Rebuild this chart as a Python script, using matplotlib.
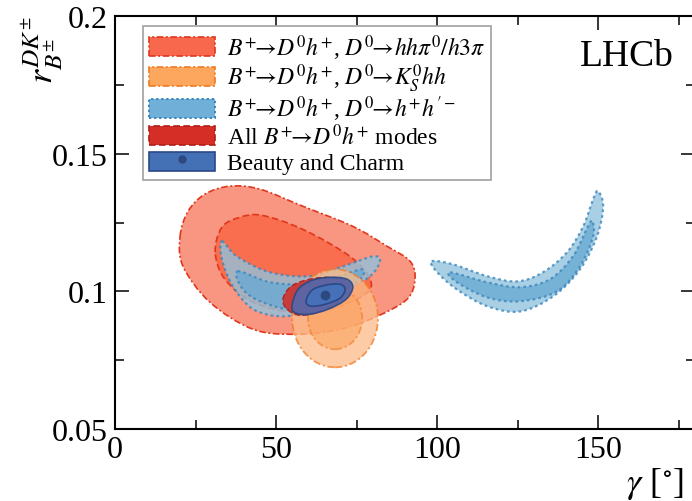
"""gamma vs r_B^{DK} confidence regions, LHCb combination style."""

import matplotlib

matplotlib.use("Agg")
import matplotlib.pyplot as plt
import numpy as np
from matplotlib.legend_handler import HandlerPatch
from matplotlib.lines import Line2D
from matplotlib.patches import Ellipse, Patch, PathPatch, Rectangle
from matplotlib.path import Path

plt.rcParams["font.family"] = ["Liberation Serif", "DejaVu Serif"]
plt.rcParams["mathtext.fontset"] = "stix"

# contour outlines: gamma [deg], r_B
HH_2S_G = [20.2, 22.7, 27.9, 35.7, 45.0, 58.3, 73.8, 84.4, 91.6, 93.1, 90.6, 81.3, 69.8, 56.5, 42.9, 29.5, 21.1]
HH_2S_R = [0.1200, 0.1291, 0.1353, 0.1382, 0.1371, 0.1309, 0.1236, 0.1164, 0.1109, 0.1044,
           0.0971, 0.0909, 0.0862, 0.0844, 0.0862, 0.0960, 0.1091]
HH_1S_G = [31.1, 33.2, 38.8, 45.6, 58.3, 72.9, 79.2, 77.6, 66.8, 55.3, 42.9, 34.1]
HH_1S_R = [0.1142, 0.1233, 0.1269, 0.1276, 0.1225, 0.1127, 0.1044, 0.0989, 0.0935, 0.0924, 0.0960, 0.1044]

# h+h- : two separate solutions
HH2_A_2S_G = [33.2, 37.8, 48.1, 60.5, 70.8, 80.1, 82.2, 79.2, 72.0, 61.4, 52.1, 42.9, 36.6, 33.2]
HH2_A_2S_R = [0.1182, 0.1127, 0.1069, 0.1055, 0.1091, 0.1127, 0.1109, 0.1055, 0.1007, 0.0935,
              0.0909, 0.0935, 0.1018, 0.1116]
HH2_A_1S_G = [38.1, 48.1, 60.5, 69.8, 76.7, 76.1, 68.9, 56.5, 45.9, 39.7]
HH2_A_1S_R = [0.1073, 0.1033, 0.1026, 0.1055, 0.1080, 0.1044, 0.0996, 0.0935, 0.0960, 0.1007]
HH2_B_2S_G = [98.3, 104.9, 115.5, 124.8, 132.8, 140.3, 145.3, 148.4, 149.9, 151.5, 149.6, 144.3,
              136.0, 125.7, 115.5, 106.1, 100.0]
HH2_B_2S_R = [0.1109, 0.1098, 0.1055, 0.1036, 0.1069, 0.1142, 0.1236, 0.1335, 0.1364, 0.1309,
              0.1200, 0.1080, 0.0982, 0.0927, 0.0946, 0.1007, 0.1069]
HH2_B_1S_G = [104.0, 115.5, 125.7, 135.0, 142.1, 146.8, 148.1, 148.4, 144.3, 137.2, 125.7, 115.5, 106.1]
HH2_B_1S_R = [0.1069, 0.1033, 0.1015, 0.1044, 0.1127, 0.1236, 0.1255, 0.1200, 0.1091, 0.1000,
              0.0964, 0.0978, 0.1033]

# K_S hh : centre, full width, full height
KS_CENTER = (68.3, 0.0902)
KS_2S_SIZE = (26.6, 0.0356)
KS_1S_SIZE = (16.8, 0.0225)

ALL_G = [52.1, 54.3, 59.0, 65.2, 71.4, 72.9, 69.8, 63.6, 57.4, 53.4]
ALL_R = [0.0971, 0.1015, 0.1040, 0.1051, 0.1040, 0.1007, 0.0964, 0.0927, 0.0913, 0.0935]

BC_2S_G = [55.0, 56.8, 61.1, 66.8, 72.0, 73.8, 71.7, 66.1, 59.9, 55.6]
BC_2S_R = [0.0953, 0.1007, 0.1040, 0.1051, 0.1044, 0.1015, 0.0971, 0.0935, 0.0916, 0.0924]
BC_1S_G = [59.3, 61.1, 65.2, 69.8, 71.4, 69.8, 65.2, 60.8]
BC_1S_R = [0.0964, 0.1004, 0.1022, 0.1026, 0.1007, 0.0975, 0.0953, 0.0946]
BC_BEST = (65.2, 0.0985)

LABELS = [
    r"$B^{+}\!\!\rightarrow\! D^{0}h^{+}$, $D^{0}\!\!\rightarrow\! hh\pi^{0}/h3\pi$",
    r"$B^{+}\!\!\rightarrow\! D^{0}h^{+}$, $D^{0}\!\!\rightarrow\! K_{S}^{0}hh$",
    r"$B^{+}\!\!\rightarrow\! D^{0}h^{+}$, $D^{0}\!\!\rightarrow\! h^{+}h^{\prime -}$",
    r"All $B^{+}\!\!\rightarrow\! D^{0}h^{+}$ modes",
    "Beauty and Charm",
]


def smooth_patch(gs, rs, **kw):
    # closed catmull-rom curve through the read outline points, as cubic beziers
    pts = np.column_stack([gs, rs])
    n = len(pts)
    verts = [pts[0]]
    codes = [Path.MOVETO]
    for i in range(n):
        p0, p1, p2, p3 = pts[i - 1], pts[i], pts[(i + 1) % n], pts[(i + 2) % n]
        verts += [p1 + (p2 - p0) / 6, p2 - (p3 - p1) / 6, p2]
        codes += [Path.CURVE4] * 3
    verts.append(pts[0])
    codes.append(Path.CLOSEPOLY)
    return PathPatch(Path(verts, codes), **kw)


def swatch(legend, orig_handle, xdescent, ydescent, width, height, fontsize):
    # shorter box than the row so every legend row gets the same height
    return Rectangle((-xdescent, -ydescent + 0.12 * height), width, 0.76 * height)


DOT = (0, (1.2, 1.4))
DASH = (0, (4, 2))
DASHDOT = (0, (4, 1.5, 1.2, 1.5))

red_edge, org_edge, blu_edge = "#e2361c", "#f07a22", "#3a86bd"

fig = plt.figure(figsize=(6.92, 5.02), dpi=100)
ax = fig.add_axes([115 / 692, 1 - 430 / 502, 580 / 692, 413 / 502])

ax.add_patch(smooth_patch(HH_2S_G, HH_2S_R, fc="#f99682", ec=red_edge, ls=DASHDOT, lw=1.2))
ax.add_patch(smooth_patch(HH_1S_G, HH_1S_R, fc="#f86e4e", ec=red_edge, ls=DASH, lw=1.2))

for gs, rs, fc in [(HH2_A_2S_G, HH2_A_2S_R, "#92c3de"), (HH2_A_1S_G, HH2_A_1S_R, "#6aaad3"),
                   (HH2_B_2S_G, HH2_B_2S_R, "#92c3de"), (HH2_B_1S_G, HH2_B_1S_R, "#6aaad3")]:
    ax.add_patch(smooth_patch(gs, rs, fc=fc, ec=blu_edge, ls=DOT, lw=1.6, alpha=0.8))

ax.add_patch(Ellipse(KS_CENTER, *KS_2S_SIZE, fc="#fdbc88", ec=org_edge, ls=DASHDOT, lw=1.3, alpha=0.75))
ax.add_patch(Ellipse(KS_CENTER, *KS_1S_SIZE, fc="#fca35e", ec=org_edge, ls=DASHDOT, lw=1.3, alpha=0.6))

ax.add_patch(smooth_patch(ALL_G, ALL_R, fc="#d2302a", ec="#b01e18", ls=DASH, lw=1.0, alpha=0.9))
ax.add_patch(smooth_patch(BC_2S_G, BC_2S_R, fc="#5069ae", ec="#2b4886", lw=1.2, alpha=0.9))
ax.add_patch(smooth_patch(BC_1S_G, BC_1S_R, fc="#4670b8", ec="#2b4886", lw=1.2))
ax.plot(*BC_BEST, "o", color="#2c4a80", ms=6)

ax.set_xlim(0, 180)
ax.set_ylim(0.05, 0.2)
ax.set_xticks([0, 50, 100, 150])
ax.set_xticks(np.arange(0, 181, 25), minor=True)
ax.set_yticks([0.05, 0.1, 0.15, 0.2])
ax.set_yticklabels(["0.05", "0.1", "0.15", "0.2"])
ax.set_yticks(np.arange(0.05, 0.2001, 0.025), minor=True)
ax.tick_params(which="both", direction="in", top=True, right=True, width=1.1, labelsize=23)
ax.tick_params(which="major", length=10)
ax.tick_params(which="minor", length=6.5)
ax.tick_params(axis="x", pad=4)
ax.tick_params(axis="y", pad=5)
for sp in ax.spines.values():
    sp.set_linewidth(1.5)

fig.text(627 / 692, 1 - 57 / 502, "LHCb", fontsize=27, ha="center", va="center")
fig.text(42 / 692, 1 - 16 / 502, r"$r_{B^{\pm}}^{DK^{\pm}}$", rotation=90, fontsize=26, ha="center", va="top")
fig.text(626 / 692, 1 - 484 / 502, r"$\gamma$ [$^{\circ}$]", fontsize=26, ha="left", va="center")

handles = [
    Patch(fc="#f8684c", ec=red_edge, ls=DASHDOT, lw=1.2),
    Patch(fc="#fca65e", ec=org_edge, ls=DASHDOT, lw=1.2),
    Patch(fc="#70b0d8", ec=blu_edge, ls=DOT, lw=1.4),
    Patch(fc="#d52e26", ec="#b01e18", ls=DASH, lw=1.2),
    (Patch(fc="#4470b5", ec="#2b4886", lw=1.2), Line2D([], [], ls="none", marker="o", ms=5, color="#2c4a80")),
]
leg = ax.legend(handles, LABELS, loc="upper left", bbox_to_anchor=(28 / 580, (430 - 27) / 413),
                borderaxespad=0, fontsize=17, handlelength=2.8, handleheight=1.25,
                handletextpad=0.5, labelspacing=0.0, borderpad=0.25, fancybox=False, framealpha=1,
                handler_map={Patch: HandlerPatch(patch_func=swatch)})
leg.get_frame().set_edgecolor("#a0a0a0")
leg.get_frame().set_linewidth(1.2)

fig.savefig("out.png", dpi=100)
